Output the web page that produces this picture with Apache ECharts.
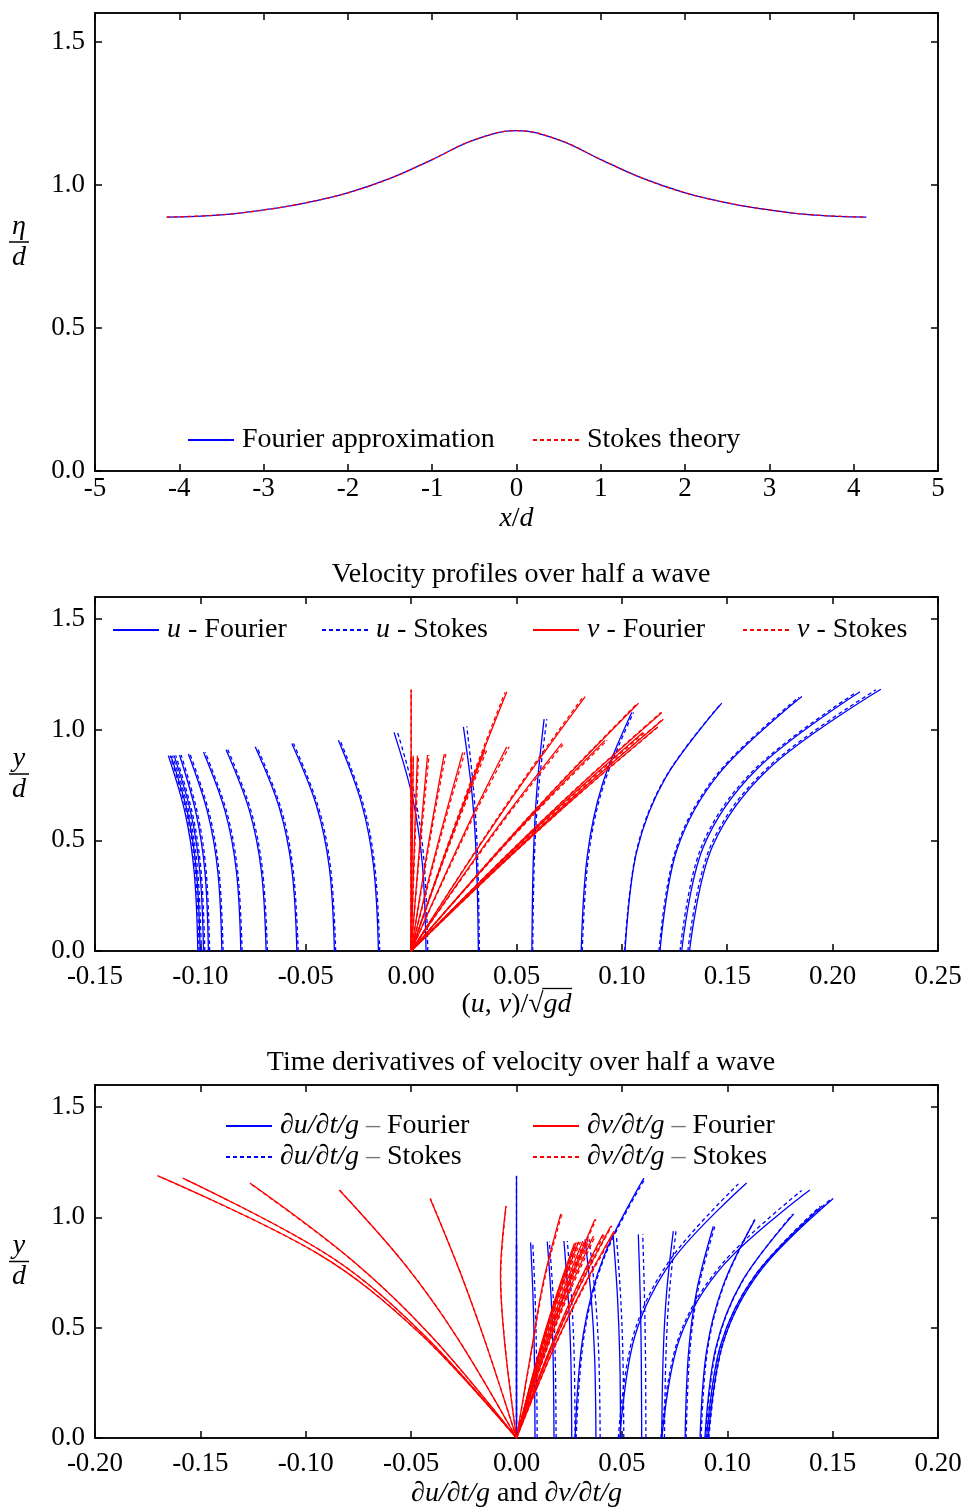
<!DOCTYPE html>
<html>
<head>
<meta charset="utf-8">
<title>Wave kinematics</title>
<script src="https://cdn.jsdelivr.net/npm/echarts/dist/echarts.min.js"></script>
<style>
html, body { margin: 0; padding: 0; background: #fff; }
#main { width: 968px; height: 1509px; }
</style>
</head>
<body>
<div id="main"></div>
<script>
// surface elevation eta/d against x/d
var surfX = [-4.15, -3.5, -3.0, -2.5, -2.0, -1.5, -1.0, -0.5, 0, 0.5, 1.0, 1.5, 2.0, 2.5, 3.0, 3.5, 4.15];
var surfFourier = [0.887, 0.895, 0.912, 0.937, 0.972, 1.022, 1.088, 1.157, 1.189, 1.157, 1.088, 1.022, 0.972, 0.937, 0.912, 0.895, 0.887];
var surfStokes = [0.887, 0.895, 0.912, 0.937, 0.972, 1.022, 1.088, 1.157, 1.189, 1.157, 1.088, 1.022, 0.972, 0.937, 0.912, 0.895, 0.887];

// every profile is read at these fractions of the local depth
var levels = [0, 0.4, 0.7, 1];

// velocity profiles, one row per phase
var velEta = [0.883, 0.883, 0.884, 0.886, 0.890, 0.898, 0.910, 0.923, 0.938, 0.952, 0.988, 1.013, 1.048, 1.078, 1.120, 1.150, 1.172, 1.183];
var velEtaStokes = [0.883, 0.883, 0.884, 0.886, 0.890, 0.898, 0.910, 0.923, 0.938, 0.952, 0.990, 1.015, 1.048, 1.078, 1.118, 1.147, 1.168, 1.180];
var uFourier = [
    [-0.1012, -0.1029, -0.1071, -0.1152], [-0.1001, -0.1018, -0.1059, -0.1140],
    [-0.0985, -0.1002, -0.1044, -0.1125], [-0.0962, -0.0978, -0.1020, -0.1099],
    [-0.0898, -0.0917, -0.0965, -0.1057], [-0.0808, -0.0829, -0.0882, -0.0985],
    [-0.0688, -0.0711, -0.0768, -0.0878], [-0.0542, -0.0566, -0.0625, -0.0740],
    [-0.0364, -0.0388, -0.0449, -0.0566], [-0.0155, -0.0178, -0.0235, -0.0345],
    [0.0071, 0.0053, 0.0007, -0.0081], [0.0319, 0.0310, 0.0289, 0.0248],
    [0.0573, 0.0580, 0.0597, 0.0631], [0.0807, 0.0836, 0.0908, 0.1047],
    [0.1015, 0.1070, 0.1208, 0.1474], [0.1181, 0.1262, 0.1464, 0.1854],
    [0.1284, 0.1386, 0.1639, 0.2130], [0.1321, 0.1430, 0.1702, 0.2229]
];
var uStokes = [
    [-0.1006, -0.1023, -0.1064, -0.1144], [-0.0995, -0.1012, -0.1052, -0.1132],
    [-0.0979, -0.0996, -0.1037, -0.1117], [-0.0956, -0.0972, -0.1013, -0.1091],
    [-0.0892, -0.0911, -0.0958, -0.1049], [-0.0802, -0.0823, -0.0875, -0.0977],
    [-0.0682, -0.0705, -0.0761, -0.0870], [-0.0536, -0.0560, -0.0618, -0.0732],
    [-0.0358, -0.0382, -0.0442, -0.0558], [-0.0149, -0.0172, -0.0228, -0.0337],
    [0.0079, 0.0062, 0.0019, -0.0065], [0.0324, 0.0316, 0.0298, 0.0264],
    [0.0577, 0.0585, 0.0605, 0.0644], [0.0812, 0.0842, 0.0915, 0.1055],
    [0.1013, 0.1068, 0.1205, 0.1470], [0.1176, 0.1256, 0.1455, 0.1840],
    [0.1276, 0.1376, 0.1626, 0.2110], [0.1313, 0.1420, 0.1689, 0.2205]
];
var vFourier = [
    [0, 0, 0, 0], [0, 0.0004, 0.0007, 0.0010],
    [0, 0.0011, 0.0020, 0.0030], [0, 0.0030, 0.0053, 0.0078],
    [0, 0.0060, 0.0107, 0.0157], [0, 0.0093, 0.0167, 0.0245],
    [0, 0.0133, 0.0239, 0.0351], [0, 0.0173, 0.0309, 0.0454],
    [0, 0.0272, 0.0486, 0.0715], [0, 0.0350, 0.0626, 0.0920],
    [0, 0.0418, 0.0748, 0.1100], [0, 0.0445, 0.0796, 0.1170],
    [0, 0.0455, 0.0814, 0.1197], [0, 0.0452, 0.0809, 0.1190],
    [0, 0.0410, 0.0734, 0.1079], [0, 0.0314, 0.0562, 0.0826],
    [0, 0.0173, 0.0309, 0.0454], [0, 0, 0, 0]
];
var vStokes = [
    [0, 0, 0, 0], [0, 0.0004, 0.0007, 0.0010],
    [0, 0.0013, 0.0024, 0.0035], [0, 0.0032, 0.0058, 0.0085],
    [0, 0.0063, 0.0112, 0.0165], [0, 0.0097, 0.0173, 0.0255],
    [0, 0.0137, 0.0245, 0.0360], [0, 0.0177, 0.0316, 0.0465],
    [0, 0.0276, 0.0493, 0.0725], [0, 0.0353, 0.0632, 0.0930],
    [0, 0.0422, 0.0755, 0.1110], [0, 0.0447, 0.0799, 0.1175],
    [0, 0.0454, 0.0813, 0.1195], [0, 0.0450, 0.0806, 0.1185],
    [0, 0.0407, 0.0729, 0.1072], [0, 0.0310, 0.0554, 0.0815],
    [0, 0.0169, 0.0303, 0.0445], [0, 0, 0, 0]
];

// time derivatives of velocity, one row per phase
var accEta = [0.883, 0.886, 0.890, 0.893, 0.900, 0.916, 0.923, 0.938, 0.960, 0.990, 1.016, 1.052, 1.086, 1.124, 1.156, 1.178, 1.189];
var accEtaStokes = [0.883, 0.886, 0.890, 0.893, 0.900, 0.916, 0.923, 0.938, 0.962, 0.990, 1.014, 1.050, 1.084, 1.122, 1.152, 1.176, 1.187];
var dudtFourier = [
    [0, 0, 0, 0], [0.0088, 0.0085, 0.0079, 0.0067],
    [0.0178, 0.0174, 0.0165, 0.0146], [0.0262, 0.0258, 0.0246, 0.0225],
    [0.0377, 0.0371, 0.0355, 0.0325], [0.0494, 0.0490, 0.0479, 0.0459],
    [0.0594, 0.0592, 0.0587, 0.0578], [0.0689, 0.0696, 0.0712, 0.0744],
    [0.0800, 0.0816, 0.0856, 0.0934], [0.0871, 0.0902, 0.0981, 0.1132],
    [0.0894, 0.0945, 0.1071, 0.1316], [0.0902, 0.0968, 0.1132, 0.1450],
    [0.0910, 0.0981, 0.1159, 0.1503], [0.0690, 0.0774, 0.0985, 0.1392],
    [0.0490, 0.0562, 0.0743, 0.1092], [0.0278, 0.0317, 0.0415, 0.0605],
    [0, 0, 0, 0]
];
var dudtStokes = [
    [0, 0, 0, 0], [0.0098, 0.0095, 0.0089, 0.0077],
    [0.0188, 0.0184, 0.0175, 0.0156], [0.0278, 0.0274, 0.0262, 0.0241],
    [0.0397, 0.0391, 0.0375, 0.0345], [0.0509, 0.0505, 0.0494, 0.0474],
    [0.0614, 0.0612, 0.0607, 0.0599], [0.0702, 0.0709, 0.0725, 0.0757],
    [0.0805, 0.0822, 0.0862, 0.0942], [0.0876, 0.0906, 0.0984, 0.1130],
    [0.0898, 0.0948, 0.1072, 0.1310], [0.0906, 0.0970, 0.1130, 0.1440],
    [0.0913, 0.0982, 0.1156, 0.1492], [0.0685, 0.0767, 0.0972, 0.1353],
    [0.0483, 0.0553, 0.0728, 0.1053], [0.0283, 0.0322, 0.0419, 0.0610],
    [0, 0, 0, 0]
];
var dvdtFourier = [
    [0, 0.0096, 0.0179, 0.0275], [0, 0.0099, 0.0184, 0.0283],
    [0, 0.0103, 0.0192, 0.0295], [0, 0.0110, 0.0205, 0.0315],
    [0, 0.0119, 0.0221, 0.0340], [0, 0.0128, 0.0237, 0.0365],
    [0, 0.0144, 0.0267, 0.0410], [0, 0.0162, 0.0301, 0.0463],
    [0, 0.0156, 0.0291, 0.0447], [0, 0.0130, 0.0242, 0.0372],
    [0, 0.0072, 0.0128, 0.0210], [0, -0.0055, -0.0076, -0.0050],
    [0, -0.0148, -0.0271, -0.0410], [0, -0.0278, -0.0530, -0.0841],
    [0, -0.0405, -0.0784, -0.1265], [0, -0.0444, -0.0887, -0.1584],
    [0, -0.0460, -0.0937, -0.1704]
];
var dvdtStokes = [
    [0, 0.0098, 0.0183, 0.0282], [0, 0.0101, 0.0188, 0.0290],
    [0, 0.0106, 0.0197, 0.0303], [0, 0.0113, 0.0210, 0.0323],
    [0, 0.0122, 0.0226, 0.0348], [0, 0.0131, 0.0243, 0.0374],
    [0, 0.0146, 0.0271, 0.0417], [0, 0.0164, 0.0305, 0.0469],
    [0, 0.0158, 0.0294, 0.0452], [0, 0.0132, 0.0245, 0.0377],
    [0, 0.0074, 0.0131, 0.0215], [0, -0.0054, -0.0075, -0.0049],
    [0, -0.0147, -0.0270, -0.0408], [0, -0.0277, -0.0528, -0.0838],
    [0, -0.0404, -0.0782, -0.1262], [0, -0.0443, -0.0885, -0.1580],
    [0, -0.0459, -0.0935, -0.1700]
];

var FONT = 'Liberation Serif';
var FS = 28;
var BLUE = '#0000ff', RED = '#ff0000';

// width of the text under the radical bar, measured so the bar can sit over it
var ctx = document.createElement('canvas').getContext('2d');
function textWidth(s, italic) {
    ctx.font = (italic ? 'italic ' : '') + FS + 'px "' + FONT + '"';
    return ctx.measureText(s).width;
}
var preWidth = textWidth('(', false) + textWidth('u', true) + textWidth(', ', false) +
    textWidth('v', true) + textWidth(')/\u221a', false);
var gdWidth = textWidth('gd', true);

var rich = {
    r: { fontFamily: FONT, fontSize: FS, color: '#000', lineHeight: 30 },
    i: { fontFamily: FONT, fontSize: FS, fontStyle: 'italic', color: '#000', lineHeight: 30 },
    g: { fontFamily: FONT, fontSize: FS, color: '#777', lineHeight: 30 },
    sp: { width: preWidth - 1, height: 1, lineHeight: 3 },
    ov: { width: gdWidth + 2, height: 1.3, backgroundColor: '#000', lineHeight: 3 },
    fn: { fontFamily: FONT, fontSize: FS, fontStyle: 'italic', color: '#000', align: 'center', lineHeight: 25 },
    bar: { width: 20, height: 1.5, backgroundColor: '#000', align: 'center', lineHeight: 6 }
};

var legendText = {
    'Fourier approximation': '{r|Fourier approximation}',
    'Stokes theory': '{r|Stokes theory}',
    'u - Fourier': '{i|u}{r| - Fourier}',
    'u - Stokes': '{i|u}{r| - Stokes}',
    'v - Fourier': '{i|v}{r| - Fourier}',
    'v - Stokes': '{i|v}{r| - Stokes}',
    'du - Fourier': '{i|\u2202u/\u2202t/g}{g| \u2013 }{r|Fourier}',
    'du - Stokes': '{i|\u2202u/\u2202t/g}{g| \u2013 }{r|Stokes}',
    'dv - Fourier': '{i|\u2202v/\u2202t/g}{g| \u2013 }{r|Fourier}',
    'dv - Stokes': '{i|\u2202v/\u2202t/g}{g| \u2013 }{r|Stokes}'
};

function lineStyle(color, dashed) {
    return { color: color, width: 1.3, type: dashed ? [4, 3] : 'solid' };
}

function profiles(name, rows, eta, axis, color, dashed) {
    return rows.map(function (row, k) {
        return {
            name: name, type: 'line', xAxisIndex: axis, yAxisIndex: axis,
            data: row.map(function (x, j) { return [x, eta[k] * levels[j]]; }),
            smooth: 0.35, symbol: 'none', silent: true,
            itemStyle: { color: color },
            lineStyle: lineStyle(color, dashed),
            emphasis: { disabled: true }
        };
    });
}

function fmt(d) {
    return function (v) {
        if (Math.abs(v) < 1e-9) v = 0;
        return v.toFixed(d);
    };
}

var frameLine = { show: true, onZero: false, lineStyle: { color: '#000', width: 1.5 } };
var frameTick = { show: true, inside: true, length: 7, lineStyle: { color: '#000', width: 1.5 } };
var xAxes = [], yAxes = [];
function addAxes(grid, xmin, xmax, xstep, xdig, xname, xgap, xmargin) {
    xAxes.push({
        type: 'value', gridIndex: grid, min: xmin, max: xmax, interval: xstep, position: 'bottom',
        axisLine: frameLine, axisTick: frameTick,
        axisLabel: { formatter: fmt(xdig), fontFamily: FONT, fontSize: 27, color: '#000', margin: xmargin },
        splitLine: { show: false },
        name: xname, nameLocation: 'middle', nameGap: xgap, nameMoveOverlap: false,
        nameTextStyle: { rich: rich }
    });
    xAxes.push({
        type: 'value', gridIndex: grid, min: xmin, max: xmax, interval: xstep, position: 'top',
        axisLine: frameLine, axisTick: frameTick,
        axisLabel: { show: false }, splitLine: { show: false }
    });
    yAxes.push({
        type: 'value', gridIndex: grid, min: 0, max: 1.6, interval: 0.5, position: 'left',
        axisLine: frameLine, axisTick: frameTick,
        axisLabel: { formatter: fmt(1), fontFamily: FONT, fontSize: 27, color: '#000', margin: 10, showMaxLabel: false },
        splitLine: { show: false },
        name: grid === 0 ? '{fn|\u03b7}\n{bar|}\n{fn|d}' : '{fn|y}\n{bar|}\n{fn|d}',
        nameLocation: 'middle', nameRotate: 0, nameGap: 66, nameMoveOverlap: false,
        nameTextStyle: { rich: rich }
    });
    yAxes.push({
        type: 'value', gridIndex: grid, min: 0, max: 1.6, interval: 0.5, position: 'right',
        axisLine: frameLine, axisTick: frameTick,
        axisLabel: { show: false }, splitLine: { show: false }
    });
}
addAxes(0, -5, 5, 1, 0, '{i|x}{r|/}{i|d}', 33, 4);
addAxes(1, -0.15, 0.25, 0.05, 2, '{sp|}{ov|}\n{r|(}{i|u}{r|, }{i|v}{r|)/\u221a}{i|gd}', 36, 12);
addAxes(2, -0.2, 0.2, 0.05, 2, '{i|\u2202u/\u2202t/g}{r| and }{i|\u2202v/\u2202t/g}', 41, 12);

var series = [];
series.push({
    name: 'Fourier approximation', type: 'line', xAxisIndex: 0, yAxisIndex: 0,
    data: surfX.map(function (x, k) { return [x, surfFourier[k]]; }),
    smooth: 0.4, symbol: 'none', silent: true, itemStyle: { color: BLUE },
    lineStyle: lineStyle(BLUE, false), emphasis: { disabled: true }
});
series.push({
    name: 'Stokes theory', type: 'line', xAxisIndex: 0, yAxisIndex: 0,
    data: surfX.map(function (x, k) { return [x, surfStokes[k]]; }),
    smooth: 0.4, symbol: 'none', silent: true, itemStyle: { color: RED },
    lineStyle: lineStyle(RED, true), emphasis: { disabled: true }
});
series = series
    .concat(profiles('u - Fourier', uFourier, velEta, 2, BLUE, false))
    .concat(profiles('u - Stokes', uStokes, velEtaStokes, 2, BLUE, true))
    .concat(profiles('v - Fourier', vFourier, velEta, 2, RED, false))
    .concat(profiles('v - Stokes', vStokes, velEtaStokes, 2, RED, true))
    .concat(profiles('du - Fourier', dudtFourier, accEta, 4, BLUE, false))
    .concat(profiles('du - Stokes', dudtStokes, accEtaStokes, 4, BLUE, true))
    .concat(profiles('dv - Fourier', dvdtFourier, accEta, 4, RED, false))
    .concat(profiles('dv - Stokes', dvdtStokes, accEtaStokes, 4, RED, true));

function legendAt(name, left, top) {
    return {
        data: [name], left: left, top: top, orient: 'horizontal',
        itemWidth: 46, itemHeight: 14, selectedMode: false,
        itemStyle: { opacity: 0, borderWidth: 0 },
        formatter: function (n) { return legendText[n]; },
        textStyle: { rich: rich, padding: [0, 0, 0, 3] }
    };
}

var titleStyle = { fontFamily: FONT, fontSize: FS, fontWeight: 'normal', color: '#000' };
var option = {
    animation: false,
    backgroundColor: '#fff',
    title: [
        { text: 'Velocity profiles over half a wave', left: 516, top: 556, textAlign: 'center', textStyle: titleStyle },
        { text: 'Time derivatives of velocity over half a wave', left: 516, top: 1044, textAlign: 'center', textStyle: titleStyle }
    ],
    legend: [
        legendAt('Fourier approximation', 182, 421),
        legendAt('Stokes theory', 527, 421),
        legendAt('u - Fourier', 107, 611),
        legendAt('u - Stokes', 316, 611),
        legendAt('v - Fourier', 527, 611),
        legendAt('v - Stokes', 737, 611),
        legendAt('du - Fourier', 220, 1107),
        legendAt('dv - Fourier', 527, 1107),
        legendAt('du - Stokes', 220, 1138),
        legendAt('dv - Stokes', 527, 1138)
    ],
    grid: [
        { left: 95, top: 13, width: 843, height: 458, show: true, borderColor: '#000', borderWidth: 1.5 },
        { left: 95, top: 597, width: 843, height: 354, show: true, borderColor: '#000', borderWidth: 1.5 },
        { left: 95, top: 1085, width: 843, height: 355, show: true, borderColor: '#000', borderWidth: 1.5 }
    ],
    xAxis: xAxes,
    yAxis: yAxes,
    series: series
};

var chart = echarts.init(document.getElementById('main'));
chart.setOption(option);
</script>
</body>
</html>
